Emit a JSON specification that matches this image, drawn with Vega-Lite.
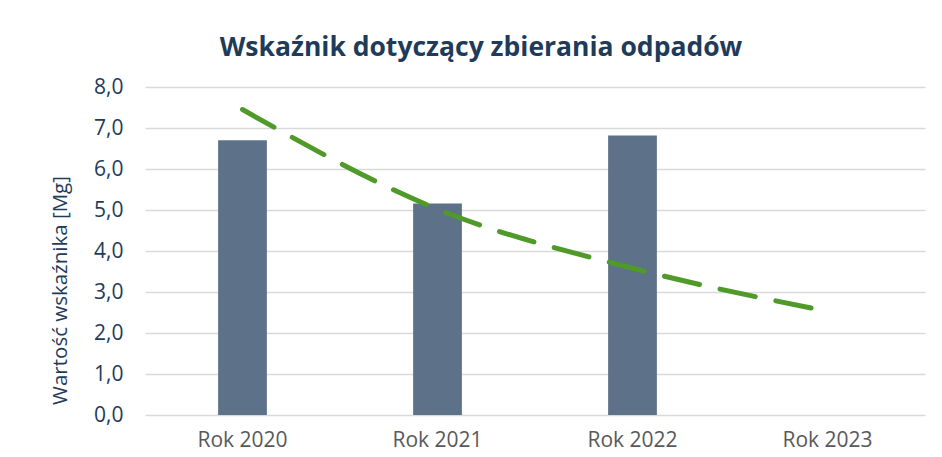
{
  "$schema": "https://vega.github.io/schema/vega-lite/v6.json",
  "autosize": {"type": "none"},
  "width": 780,
  "height": 328,
  "padding": {"left": 145, "top": 87, "right": 17, "bottom": 42},
  "background": "white",
  "config": {
    "font": "Open Sans",
    "view": {"stroke": null}
  },
  "title": {
    "text": "Wskaźnik dotyczący zbierania odpadów",
    "font": "Open Sans",
    "fontSize": 26.5,
    "fontWeight": "bold",
    "color": "#1f3b5a",
    "anchor": "middle",
    "dx": -54,
    "offset": 15
  },
  "data": {
    "values": [
      {"year": "Rok 2020", "value": 6.70, "trend": 7.45},
      {"year": "Rok 2021", "value": 5.16, "trend": 5.02},
      {"year": "Rok 2022", "value": 6.82, "trend": 3.58},
      {"year": "Rok 2023", "value": null, "trend": 2.53}
    ]
  },
  "encoding": {
    "x": {
      "field": "year",
      "type": "nominal",
      "sort": null,
      "scale": {"paddingInner": 0.75, "paddingOuter": 0.375},
      "axis": {
        "title": null,
        "labelAngle": 0,
        "labelFont": "Open Sans",
        "labelFontSize": 21,
        "labelColor": "#595959",
        "labelPadding": 14,
        "ticks": false,
        "domain": false
      }
    }
  },
  "layer": [
    {
      "mark": {"type": "bar", "fill": "#5d7189"},
      "encoding": {
        "y": {
          "field": "value",
          "type": "quantitative",
          "scale": {"domain": [0, 8], "nice": false},
          "axis": {
            "title": "Wartość wskaźnika [Mg]",
            "titleFont": "Open Sans",
            "titleFontSize": 20.5,
            "titleFontWeight": "normal",
            "titleColor": "#1f3b5a",
            "titleX": -85,
            "titleY": 203,
            "titleAngle": -90,
            "titleBaseline": "middle",
            "titleAlign": "center",
            "values": [0, 1, 2, 3, 4, 5, 6, 7, 8],
            "format": ".1f",
            "labelExpr": "replace(datum.label, '.', ',')",
            "labelFont": "Open Sans",
            "labelFontSize": 21,
            "labelColor": "#1f3b5a",
            "labelPadding": 22,
            "ticks": false,
            "domain": false,
            "grid": true,
            "gridColor": "#d9d9d9",
            "gridWidth": 1.5
          }
        }
      }
    },
    {
      "mark": {
        "type": "line",
        "color": "#4f9a28",
        "strokeWidth": 5,
        "strokeDash": [36, 21],
        "strokeCap": "round",
        "interpolate": "monotone"
      },
      "encoding": {
        "y": {"field": "trend", "type": "quantitative"}
      }
    }
  ]
}
